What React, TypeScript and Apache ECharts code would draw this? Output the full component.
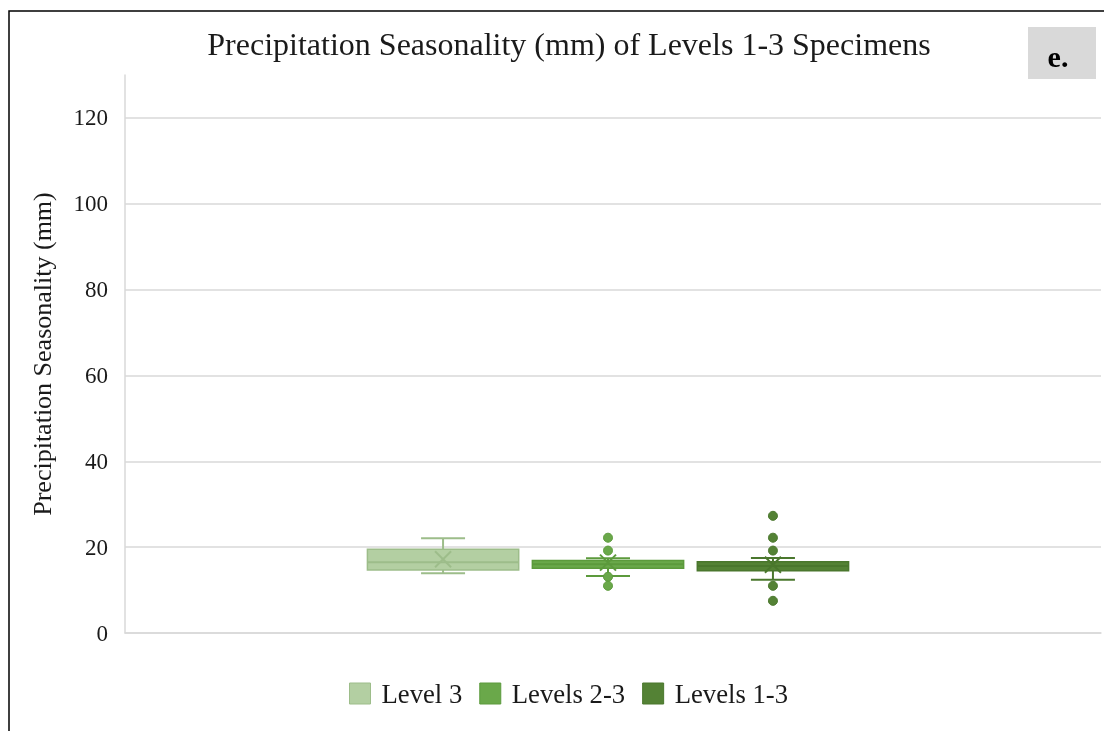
import React, { useEffect, useRef } from "react";
import * as echarts from "echarts";

const categories = ["All"];
const seriesNames = ["Level 3", "Levels 2-3", "Levels 1-3"];
// [min, q1, median, q3, max, mean]
const level3Stats = [13.9, 14.7, 16.5, 19.5, 22.1, 17.2];
const levels23Stats = [13.3, 15.1, 16.0, 16.9, 17.4, 16.4];
const levels13Stats = [12.4, 14.5, 15.6, 16.6, 17.5, 15.9];
const level3Outliers: number[] = [];
const levels23Outliers = [22.2, 19.2, 13.1, 11.0];
const levels13Outliers = [27.3, 22.2, 19.2, 11.0, 7.5];
const yTicks = [0, 20, 40, 60, 80, 100, 120];

const fills = ["#b3cfa2", "#6aa84a", "#548235"];
const strokes = ["#9dbd8a", "#5c9a3c", "#4a772d"];
const statsList = [level3Stats, levels23Stats, levels13Stats];
const outlierList = [level3Outliers, levels23Outliers, levels13Outliers];

const FONT = "'Liberation Serif', 'Times New Roman', serif";

function makeRender(idx: number) {
  return (params: any, api: any) => {
    const cat = api.value(0);
    const band = api.size([1, 0])[0];
    const cx = api.coord([cat, 0])[0] - 5 + (idx - 1) * band * 0.169;
    const hw = band * 0.0775;
    const cap = 22;
    const y = (v: number) => api.coord([cat, v])[1];
    const [mn, q1, md, q3, mx, mean] = [1, 2, 3, 4, 5, 6].map((i) => api.value(i));
    const stroke = strokes[idx];
    const ls = { stroke, lineWidth: 2, fill: "none" };
    const children: any[] = [
      { type: "line", shape: { x1: cx, y1: y(q3), x2: cx, y2: y(mx) }, style: ls },
      { type: "line", shape: { x1: cx, y1: y(q1), x2: cx, y2: y(mn) }, style: ls },
      { type: "line", shape: { x1: cx - cap, y1: y(mx), x2: cx + cap, y2: y(mx) }, style: ls },
      { type: "line", shape: { x1: cx - cap, y1: y(mn), x2: cx + cap, y2: y(mn) }, style: ls },
      {
        type: "rect",
        shape: { x: cx - hw, y: y(q3), width: hw * 2, height: y(q1) - y(q3) },
        style: { fill: fills[idx], stroke, lineWidth: 1.5 },
      },
      { type: "line", shape: { x1: cx - hw, y1: y(md), x2: cx + hw, y2: y(md) }, style: ls },
      { type: "line", shape: { x1: cx - 8, y1: y(mean) - 8, x2: cx + 8, y2: y(mean) + 8 }, style: ls },
      { type: "line", shape: { x1: cx - 8, y1: y(mean) + 8, x2: cx + 8, y2: y(mean) - 8 }, style: ls },
    ];
    outlierList[idx].forEach((v) => {
      children.push({
        type: "circle",
        shape: { cx, cy: y(v), r: 4.5 },
        style: { fill: idx === 2 ? "#548235" : "#6aa84a", stroke, lineWidth: 1 },
      });
    });
    return { type: "group", children };
  };
}

export default function App() {
  const ref = useRef<HTMLDivElement>(null);
  useEffect(() => {
    document.body.style.margin = "0";
    const chart = echarts.init(ref.current!, null, { renderer: "svg" });
    chart.setOption({
      animation: false,
      color: fills,
      title: {
        text: "Precipitation Seasonality (mm) of Levels 1-3 Specimens",
        left: 564,
        textAlign: "center",
        top: 23,
        textStyle: { fontFamily: FONT, fontSize: 32, fontWeight: "normal", color: "#1a1a1a" },
      },
      legend: {
        data: seriesNames.map((n, i) => ({
          name: n,
          icon: "rect",
          itemStyle: { color: fills[i], borderColor: strokes[i], borderWidth: 1 },
        })),
        top: 675,
        left: 344,
        itemWidth: 21,
        itemHeight: 21,
        itemGap: 17,
        textStyle: { fontFamily: FONT, fontSize: 26.7, color: "#1a1a1a", padding: [0, 0, 0, 6] },
      },
      grid: { left: 125, right: 3, top: 75, bottom: 98 },
      xAxis: {
        type: "category",
        data: categories,
        axisLine: { show: true, lineStyle: { color: "#d9d9d9", width: 1.5 } },
        axisTick: { show: false },
        axisLabel: { show: false },
      },
      yAxis: {
        type: "value",
        min: 0,
        max: 130,
        interval: 20,
        name: "Precipitation Seasonality (mm)",
        nameLocation: "middle",
        nameGap: 70,
        nameTextStyle: { fontFamily: FONT, fontSize: 26, color: "#1a1a1a" },
        axisLine: { show: true, lineStyle: { color: "#d9d9d9", width: 1.5 } },
        axisTick: { show: false },
        axisLabel: {
          fontFamily: FONT,
          fontSize: 23,
          color: "#1a1a1a",
          margin: 17,
          formatter: (v: number) => (yTicks.includes(v) ? String(v) : ""),
        },
        splitLine: { show: true, showMaxLine: false, lineStyle: { color: "#d9d9d9", width: 1.5 } },
      },
      graphic: [
        {
          type: "rect",
          shape: { x: 9, y: 11, width: 1300, height: 900 },
          style: { fill: "none", stroke: "#000", lineWidth: 1.5 },
          silent: true,
        },
        {
          type: "rect",
          shape: { x: 1028, y: 27, width: 68, height: 52 },
          style: { fill: "#d9d9d9" },
        },
        {
          type: "text",
          x: 1058,
          y: 56,
          style: {
            text: "e.",
            fontFamily: FONT,
            fontSize: 30,
            fontWeight: "bold",
            fill: "#000",
            align: "center",
            verticalAlign: "middle",
          },
        },
      ],
      series: seriesNames.map((name, i) => ({
        name,
        type: "custom",
        renderItem: makeRender(i),
        itemStyle: { color: fills[i] },
        encode: { x: 0, y: [1, 2, 3, 4, 5, 6] },
        data: [[0, ...statsList[i]]],
        z: 3 + i,
      })),
    });
    return () => chart.dispose();
  }, []);
  return <div ref={ref} style={{ position: "fixed", left: 0, top: 0, width: 1104, height: 731 }} />;
}
